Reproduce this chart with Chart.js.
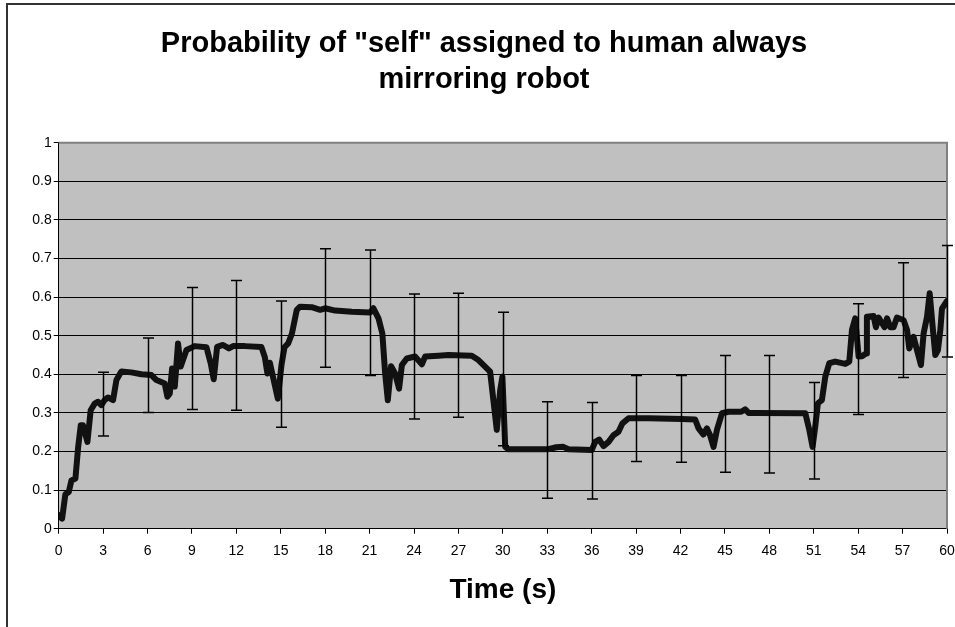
<!DOCTYPE html>
<html>
<head>
<meta charset="utf-8">
<title>Probability of "self"</title>
<script src="https://cdn.jsdelivr.net/npm/chart.js@4.4.1/dist/chart.umd.min.js"></script>
<style>
  html, body { margin: 0; padding: 0; background: #fff; overflow: hidden; }
  #frame {
    position: absolute; left: 6px; top: 3px;
    width: 952px; height: 640px;
    border: 2px solid #333;
  }
  canvas { display: block; }
</style>
</head>
<body>
<div id="frame"><canvas id="chart" width="952" height="640"></canvas></div>
<script>
// ===== data =====

// time (s) of each traced point on the curve
const times = [
  0, 0.23, 0.45, 0.68, 0.86, 1.13, 1.31, 1.49, 1.64, 1.94, 2.16, 2.43, 2.66, 2.88,
  3.1, 3.33, 3.67, 3.9, 4.23, 4.9, 5.59, 6.26, 6.6, 7.16, 7.34, 7.5, 7.66, 7.84,
  8.06, 8.24, 8.63, 9.19, 9.98, 10.27, 10.47, 10.7, 11.1, 11.5, 11.78, 12.57,
  13.69, 13.92, 14.1, 14.26, 14.8, 15.05, 15.25, 15.5, 15.75, 16.08, 16.3, 17.09,
  17.66, 17.99, 18.67, 19.8, 21.03, 21.26, 21.6, 21.86, 22.05, 22.23, 22.45,
  22.72, 22.99, 23.18, 23.51, 24.07, 24.53, 24.75, 25.65, 26.32, 27.9, 28.35,
  28.8, 29.14, 29.36, 29.59, 29.82, 29.97, 30.16, 30.38, 31.5, 33.08, 33.6,
  34.09, 34.43, 36.01, 36.24, 36.5, 36.8, 37.14, 37.47, 37.81, 38.08, 38.49,
  39.84, 42.09, 42.99, 43.22, 43.55, 43.78, 44.0, 44.23, 44.46, 44.8, 45.24,
  46.1, 46.37, 46.6, 47.05, 50.43, 50.7, 50.92, 51.1, 51.28, 51.55, 51.78,
  52.05, 52.45, 53.13, 53.4, 53.58, 53.8, 54.03, 54.26, 54.53, 54.59, 55.04,
  55.2, 55.38, 55.78, 55.95, 56.17, 56.39, 56.62, 57.07, 57.3, 57.45, 57.74,
  57.97, 58.24, 58.42, 58.65, 58.83, 59.03, 59.21, 59.39, 59.55, 59.66, 60
];

// probability of "self" at each of those times
const probSelf = [
  0.035, 0.026, 0.089, 0.095, 0.125, 0.13, 0.21, 0.268, 0.268, 0.225, 0.307, 0.324, 0.329, 0.32,
  0.333, 0.34, 0.333, 0.385, 0.407, 0.405, 0.40, 0.398, 0.385, 0.376, 0.342, 0.35, 0.415, 0.368,
  0.48, 0.42, 0.463, 0.473, 0.47, 0.428, 0.387, 0.471, 0.476, 0.467, 0.473, 0.473,
  0.471, 0.445, 0.402, 0.43, 0.337, 0.425, 0.47, 0.48, 0.505, 0.567, 0.575, 0.574,
  0.567, 0.571, 0.565, 0.562, 0.56, 0.571, 0.545, 0.506, 0.402, 0.333, 0.421,
  0.402, 0.363, 0.424, 0.441, 0.446, 0.426, 0.446, 0.448, 0.45, 0.448, 0.437,
  0.42, 0.407, 0.333, 0.256, 0.359, 0.394, 0.212, 0.206, 0.206, 0.206, 0.211,
  0.212, 0.206, 0.204, 0.225, 0.231, 0.214, 0.225, 0.242, 0.251, 0.273, 0.286,
  0.286, 0.284, 0.283, 0.26, 0.244, 0.26, 0.242, 0.212, 0.256, 0.299, 0.303,
  0.303, 0.309, 0.3, 0.3, 0.299, 0.256, 0.212, 0.264, 0.325, 0.333, 0.394,
  0.429, 0.433, 0.427, 0.433, 0.515, 0.545, 0.446, 0.447, 0.454, 0.549, 0.551,
  0.522, 0.547, 0.522, 0.545, 0.522, 0.522, 0.547, 0.54, 0.515, 0.467, 0.497,
  0.463, 0.424, 0.506, 0.549, 0.61, 0.524, 0.45, 0.463, 0.515, 0.57, 0.59
];

// error bars every 3 s
const errTimes = [3, 6, 9, 12, 15, 18, 21, 24, 27, 30, 33, 36, 39, 42, 45, 48, 51, 54, 57, 60];
const errHigh = [0.405, 0.494, 0.625, 0.643, 0.590, 0.725, 0.722, 0.608, 0.610, 0.561,
                 0.329, 0.327, 0.397, 0.397, 0.449, 0.449, 0.379, 0.583, 0.689, 0.734];
const errLow  = [0.240, 0.301, 0.309, 0.307, 0.263, 0.418, 0.397, 0.284, 0.289, 0.215,
                 0.079, 0.077, 0.174, 0.172, 0.146, 0.144, 0.129, 0.296, 0.392, 0.445];

// axis ticks
const xTicks = [0, 3, 6, 9, 12, 15, 18, 21, 24, 27, 30, 33, 36, 39, 42, 45, 48, 51, 54, 57, 60];
const yTicks = [0, 0.1, 0.2, 0.3, 0.4, 0.5, 0.6, 0.7, 0.8, 0.9, 1];
const yTickLabels = ["0", "0.1", "0.2", "0.3", "0.4", "0.5", "0.6", "0.7", "0.8", "0.9", "1"];

const titleLines = ['Probability of "self" assigned to human always', 'mirroring robot'];
const xTitle = "Time (s)";

// ===== chart =====

Chart.defaults.font.family = 'Arial, "Liberation Sans", sans-serif';
Chart.defaults.color = "#000";

// grey plot area (Excel style)
const plotBackground = {
  id: "plotBackground",
  beforeDraw(chart) {
    const { ctx, chartArea: a } = chart;
    ctx.save();
    ctx.fillStyle = "#c0c0c0";
    ctx.fillRect(a.left, a.top, a.right - a.left, a.bottom - a.top);
    ctx.restore();
  },
  beforeDatasetsDraw(chart) {
    const { ctx, chartArea: a } = chart;
    ctx.save();
    ctx.strokeStyle = "#808080";
    ctx.lineWidth = 2;
    ctx.beginPath();
    ctx.moveTo(a.left, a.top);
    ctx.lineTo(a.right, a.top);
    ctx.lineTo(a.right, a.bottom);
    ctx.stroke();
    ctx.restore();
  }
};

// vertical error bars with caps
const errorBars = {
  id: "errorBars",
  afterDatasetsDraw(chart) {
    const { ctx, scales } = chart;
    const xs = scales.x, ys = scales.y;
    ctx.save();
    ctx.strokeStyle = "#000";
    ctx.lineWidth = 1.5;
    errTimes.forEach((t, i) => {
      const x = Math.round(xs.getPixelForValue(t)) + 0.5;
      const top = ys.getPixelForValue(errHigh[i]);
      const bot = ys.getPixelForValue(errLow[i]);
      ctx.beginPath();
      ctx.moveTo(x, top);
      ctx.lineTo(x, bot);
      ctx.moveTo(x - 5.5, top);
      ctx.lineTo(x + 5.5, top);
      ctx.moveTo(x - 5.5, bot);
      ctx.lineTo(x + 5.5, bot);
      ctx.stroke();
    });
    ctx.restore();
  }
};

const points = times.map((t, i) => ({ x: t, y: probSelf[i] }));

new Chart(document.getElementById("chart"), {
  type: "line",
  data: {
    datasets: [{
      label: "P(self)",
      data: points,
      borderColor: "#111",
      borderWidth: 6,
      borderJoinStyle: "round",
      borderCapStyle: "round",
      pointRadius: 0,
      tension: 0,
      fill: false
    }]
  },
  options: {
    responsive: false,
    animation: false,
    events: [],
    layout: { padding: 0 },
    plugins: {
      legend: { display: false },
      tooltip: { enabled: false },
      title: {
        display: true,
        text: titleLines,
        font: { size: 29, weight: "bold", lineHeight: 1.25 },
        color: "#000",
        padding: { top: 21, bottom: 44.2 }
      }
    },
    scales: {
      x: {
        type: "linear",
        min: 0,
        max: 60,
        afterFit(scale) {
          scale.height = 116.3;
          scale.paddingRight = 13;
          scale.paddingLeft = 0;
        },
        afterBuildTicks(scale) { scale.ticks = xTicks.map(v => ({ value: v })); },
        ticks: {
          font: { size: 14 },
          color: "#000",
          padding: 9,
          maxRotation: 0,
          autoSkip: false,
          callback: v => String(v)
        },
        grid: { drawOnChartArea: false, drawTicks: true, tickLength: 5, color: "#000" },
        border: { display: true, color: "#000", width: 1 },
        title: {
          display: true,
          text: xTitle,
          font: { size: 28, weight: "bold" },
          color: "#000",
          padding: { top: 0, bottom: 38 }
        }
      },
      y: {
        min: 0,
        max: 1,
        afterFit(scale) { scale.width = 50.7; },
        afterBuildTicks(scale) { scale.ticks = yTicks.map(v => ({ value: v })); },
        ticks: {
          font: { size: 14 },
          color: "#000",
          padding: 2,
          autoSkip: false,
          callback: (v, i) => yTickLabels[i]
        },
        grid: { color: "#000", lineWidth: 1, drawTicks: true, tickLength: 5 },
        border: { display: true, color: "#000", width: 1 }
      }
    }
  },
  plugins: [plotBackground, errorBars]
});
</script>
</body>
</html>
